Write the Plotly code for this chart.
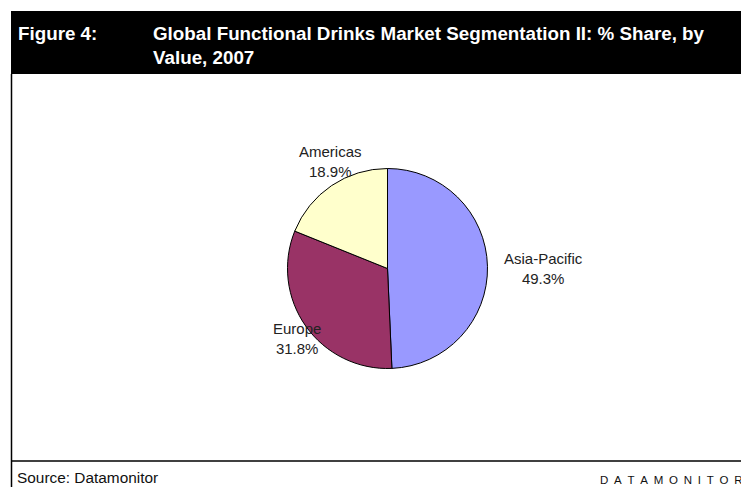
import plotly.graph_objects as go

# Regional share of functional drinks value, 2007
regions = ["Asia-Pacific", "Europe", "Americas"]
shares = [49.3, 31.8, 18.9]
slice_colors = ["#9999FF", "#993366", "#FFFFCC"]

W, H = 741, 487


def px(x):
    return x / W


def py(y):
    return 1 - y / H


# Pie centre and radius in pixels
cx, cy, r = 387.5, 268.5, 100

fig = go.Figure(
    go.Pie(
        labels=regions,
        values=shares,
        sort=False,
        direction="clockwise",
        rotation=0,
        marker=dict(colors=slice_colors, line=dict(color="#000000", width=1)),
        textinfo="none",
        hoverinfo="label+percent",
        showlegend=False,
        domain=dict(x=[px(cx - r), px(cx + r)], y=[py(cy + r), py(cy - r)]),
    )
)

# Outside slice labels
label_pos = {
    "Asia-Pacific": (543, 268),
    "Europe": (297, 338),
    "Americas": (330, 162),
}
annotations = []
for name, val in zip(regions, shares):
    x, y = label_pos[name]
    annotations.append(
        dict(
            x=px(x), y=py(y), xref="paper", yref="paper",
            text=f"{name}<br>{val}%", showarrow=False,
            xanchor="center", yanchor="middle", align="center",
            font=dict(family="Liberation Sans, Arial", size=15, color="#222222"),
        )
    )

title_font = dict(family="Liberation Sans, Arial", size=18.8, color="#FFFFFF")
annotations += [
    dict(x=px(16), y=py(33), xref="paper", yref="paper", text="<b>Figure 4:</b>",
         showarrow=False, xanchor="left", yanchor="middle", font=title_font),
    dict(x=px(151), y=py(33), xref="paper", yref="paper",
         text="<b>Global Functional Drinks Market Segmentation II: % Share, by</b>",
         showarrow=False, xanchor="left", yanchor="middle", font=title_font),
    dict(x=px(151), y=py(58), xref="paper", yref="paper", text="<b>Value, 2007</b>",
         showarrow=False, xanchor="left", yanchor="middle", font=title_font),
    dict(x=px(15), y=py(477), xref="paper", yref="paper", text="Source: Datamonitor",
         showarrow=False, xanchor="left", yanchor="middle",
         font=dict(family="Liberation Sans, Arial", size=15.4, color="#111111")),
    dict(x=px(598), y=py(480), xref="paper", yref="paper",
         text="\u2002".join("DATAMONITOR"),
         showarrow=False, xanchor="left", yanchor="middle",
         font=dict(family="Liberation Sans, Arial", size=11.5, color="#111111")),
]

shapes = [
    # header band
    dict(type="rect", xref="paper", yref="paper", x0=px(11), x1=1.0, y0=py(74), y1=py(11),
         fillcolor="#000000", line=dict(width=0), layer="below"),
    # left frame line
    dict(type="line", xref="paper", yref="paper", x0=px(11.5), x1=px(11.5), y0=py(74), y1=0,
         line=dict(color="#000000", width=1.5)),
    # footer rule
    dict(type="line", xref="paper", yref="paper", x0=px(11), x1=1.0, y0=py(461), y1=py(461),
         line=dict(color="#000000", width=1.5)),
]

fig.update_layout(
    width=W, height=H,
    margin=dict(l=0, r=0, t=0, b=0),
    paper_bgcolor="#FFFFFF", plot_bgcolor="#FFFFFF",
    annotations=annotations, shapes=shapes,
)

fig.write_html("out.html")
